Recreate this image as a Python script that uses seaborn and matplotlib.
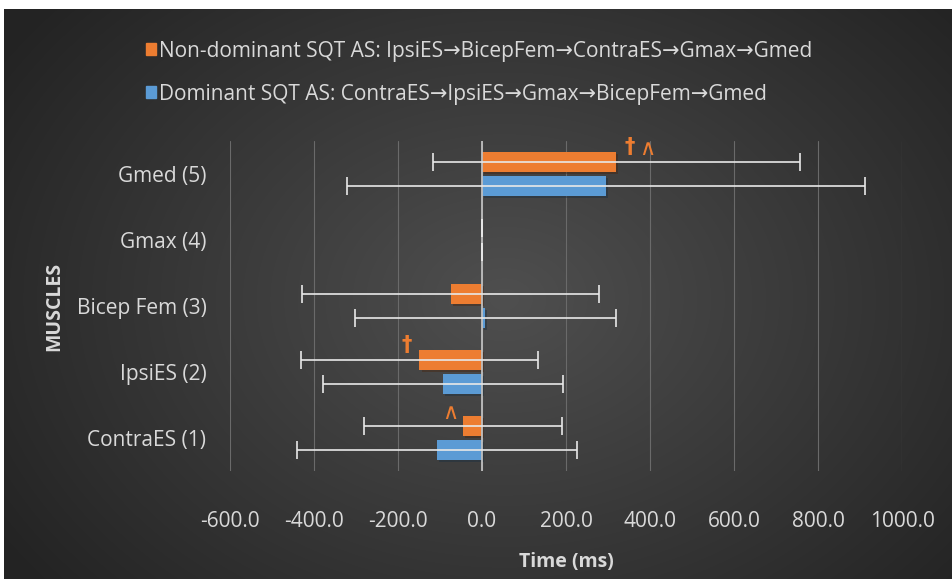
import numpy as np
import pandas as pd
import matplotlib
matplotlib.use("Agg")
import matplotlib.pyplot as plt
import matplotlib.patheffects as pe
import seaborn as sns

# Muscle onset timing relative to reference (ms), mean and SD per limb condition
muscles = ["Gmed (5)", "Gmax (4)", "Bicep Fem (3)", "IpsiES (2)", "ContraES (1)"]
series_names = [
    "Non-dominant SQT AS: IpsiES\u2192BicepFem\u2192ContraES\u2192Gmax\u2192Gmed",
    "Dominant SQT AS: ContraES\u2192IpsiES\u2192Gmax\u2192BicepFem\u2192Gmed",
]
nondom_mean = [320.0, 0.0, -75.0, -149.0, -45.0]
nondom_sd = [436.0, 0.0, 353.0, 283.0, 235.0]
dom_mean = [296.0, 0.0, 8.0, -92.0, -107.0]
dom_sd = [617.0, 0.0, 310.0, 286.0, 334.0]
# significance markers placed above the non-dominant bars
nondom_marks = ["\u2020 \u2227", "", "", "\u2020", "\u2227"]

x_ticks = [-600, -400, -200, 0, 200, 400, 600, 800, 1000]

colors = ["#ED7D31", "#5B9BD5"]
text_col = "#D9D9D9"

df = pd.DataFrame({
    "muscle": muscles * 2,
    "series": [series_names[0]] * len(muscles) + [series_names[1]] * len(muscles),
    "time": nondom_mean + dom_mean,
})

sns.set_theme(style="dark")
plt.rcParams["font.family"] = ["Open Sans", "DejaVu Sans"]

W, H = 952, 579
fig = plt.figure(figsize=(W / 100, H / 100), dpi=100, facecolor="white")

# dark radial-gradient chart background
bg = fig.add_axes([4 / W, 0, 1 - 4 / W, 1 - 9 / H])
yy, xx = np.mgrid[0:570, 0:948]
cx, cy = 500, 290
r = np.sqrt(((xx - cx) / 560) ** 2 + ((yy - cy) / 420) ** 2)
shade = np.clip(0.31 - 0.16 * r, 0.14, 0.32)
bg.imshow(np.dstack([shade] * 3), aspect="auto", extent=[0, 1, 0, 1])
bg.set_axis_off()

ax = fig.add_axes([230 / W, (H - 471) / H, (902 - 230) / W, (471 - 141) / H])
ax.patch.set_alpha(0)

group_w, gap = 0.74, 0.19
sns.barplot(
    data=df, y="muscle", x="time", hue="series", order=muscles,
    hue_order=series_names, palette=colors, orient="h",
    width=group_w, gap=gap, errorbar=None, ax=ax, saturation=1,
    linewidth=0, zorder=3, legend=False,
)

for p in ax.patches:
    p.set_path_effects([pe.SimplePatchShadow(offset=(1.5, -1.5), alpha=0.45), pe.Normal()])

slot = group_w / 2
bar_h = slot * (1 - gap)
sds = [nondom_sd, dom_sd]
means = [nondom_mean, dom_mean]


def draw_mark(sym, x, y, dx):
    """Place one significance glyph above a bar end, dx pixels from it."""
    if sym == "\u2020":
        ax.annotate(sym, (x, y), xytext=(dx, -5), textcoords="offset pixels",
                    ha="center", va="bottom", color="#ED7D31", fontsize=15,
                    fontweight="bold", family=["DejaVu Sans"], zorder=5)
    else:
        ax.annotate(sym, (x, y), xytext=(dx, -3), textcoords="offset pixels",
                    ha="center", va="baseline", color="#ED7D31", fontsize=16,
                    fontweight="normal", family=["DejaVu Sans"], zorder=5)


for k in range(2):
    for i in range(len(muscles)):
        yc = i + (k - 0.5) * slot
        ax.errorbar(means[k][i], yc, xerr=sds[k][i], fmt="none",
                    ecolor="#E8E8E8", elinewidth=1.2, capsize=6.5,
                    capthick=1.2, zorder=4)
        if k == 0 and nondom_marks[i]:
            v = means[k][i]
            top = yc - bar_h / 2
            for j, sym in enumerate(nondom_marks[i].split()):
                dx = 13 + 18 * j if v >= 0 else -13 - 18 * j
                draw_mark(sym, v, top, dx)

ax.set_xlim(-600, 1000)
ax.set_xticks(x_ticks)
ax.set_xticklabels([f"{v:.1f}" for v in x_ticks])
ax.set_ylim(len(muscles) - 0.5, -0.5)
ax.grid(axis="x", color="#6A6A6A", linewidth=0.8, zorder=0)
ax.grid(axis="y", visible=False)
ax.axvline(0, color="#BFBFBF", linewidth=1.3, zorder=3.5)
for s in ax.spines.values():
    s.set_visible(False)
ax.tick_params(axis="both", length=0, colors=text_col, labelsize=15)
ax.tick_params(axis="x", pad=29)
ax.tick_params(axis="y", pad=17)
for t in ax.get_xticklabels() + ax.get_yticklabels():
    t.set_color(text_col)

ax.set_xlabel("Time (ms)", color=text_col, fontsize=14, fontweight="bold",
              labelpad=14)
ax.set_ylabel("MUSCLES", color=text_col, fontsize=14, fontweight="bold",
              labelpad=9)

# legend as two stacked rows across the top
handles = [plt.Rectangle((0, 0), 1, 1, color=c) for c in colors]
leg = fig.legend(handles, series_names, loc="upper left",
                 bbox_to_anchor=(127 / W, 1 - 22 / H), ncol=1, frameon=False,
                 fontsize=15, handlelength=0.5, handleheight=0.5,
                 handletextpad=0.15, labelspacing=1.05, labelcolor=text_col)

fig.savefig("out.png", dpi=100, facecolor="white")
